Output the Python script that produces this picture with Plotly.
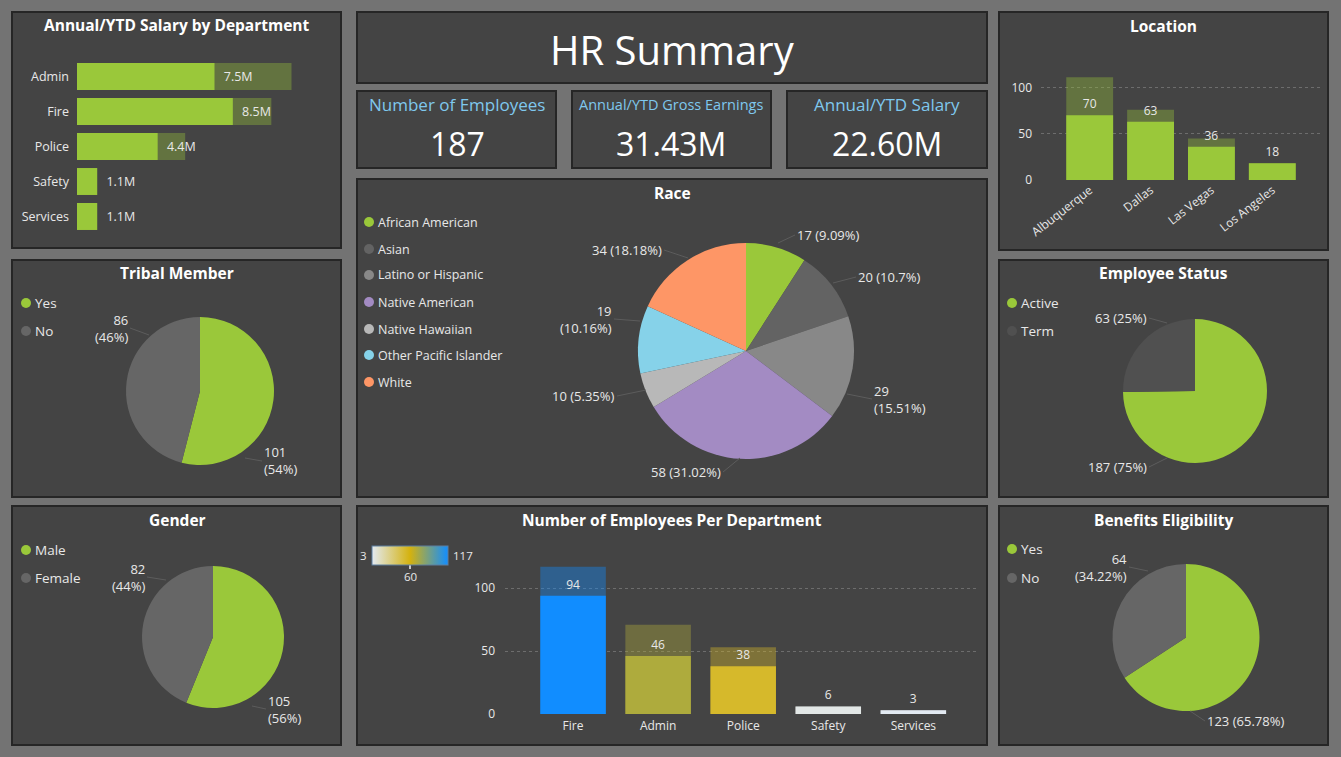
import plotly.graph_objects as go

W, H = 1341, 757

# ---------------- data ----------------
salary_depts = ["Admin", "Fire", "Police", "Safety", "Services"]
salary_selected_m = [7.5, 8.5, 4.4, 1.1, 1.1]
salary_total_m = [11.7, 10.6, 5.9, 1.1, 1.1]

location_names = ["Albuquerque", "Dallas", "Las Vegas", "Los Angeles"]
location_selected = [70, 63, 36, 18]
location_total = [111, 76, 45, 18]

dept_names = ["Fire", "Admin", "Police", "Safety", "Services"]
dept_selected = [94, 46, 38, 6, 3]
dept_total = [117, 71, 53, 6, 3]

race_labels = ["African American", "Asian", "Latino or Hispanic", "Native American",
               "Native Hawaiian", "Other Pacific Islander", "White"]
race_values = [17, 20, 29, 58, 10, 19, 34]

tribal_labels = ["Yes", "No"]
tribal_values = [101, 86]
gender_labels = ["Male", "Female"]
gender_values = [105, 82]
status_labels = ["Active", "Term"]
status_values = [187, 63]
benefit_labels = ["Yes", "No"]
benefit_values = [123, 64]

kpi_titles = ["Number of Employees", "Annual/YTD Gross Earnings", "Annual/YTD Salary"]
kpi_values = ["187", "31.43M", "22.60M"]

# ---------------- style ----------------
FONT = "Segoe UI, Open Sans, sans-serif"
BG = "#737373"
PANEL = "#444444"
BORDER = "#262626"
GREEN = "#9AC83A"
GREY = "#666666"
TXT = "#e8e8e8"
LEADER = "#5c5c5c"
race_colors = ["#9AC83A", "#636363", "#888888", "#A38BC3", "#B8B8B8", "#86D2E9", "#FE9666"]


def px(x):
    return x / W


def py(y):
    return 1 - y / H


def pie_text(values, decimals, breaks):
    total = sum(values)
    out = []
    for v, b in zip(values, breaks):
        s = f"{100 * v / total:.{decimals}f}"
        if "." in s:
            s = s.rstrip("0").rstrip(".")
        out.append(f"{v}{'<br>' if b else ' '}({s}%)")
    return out


fig = go.Figure()
shapes = []
annotations = []

panels = [
    (12, 12, 341, 248), (12, 260, 341, 497), (12, 506, 341, 745),
    (357, 12, 987, 83), (357, 91, 556, 168), (572, 91, 771, 168), (787, 91, 987, 168),
    (357, 179, 987, 497), (357, 506, 987, 745),
    (999, 12, 1328, 250), (999, 260, 1328, 497), (999, 506, 1328, 745),
]
for x0, y0, x1, y1 in panels:
    shapes.append(dict(type="rect", xref="paper", yref="paper", layer="below",
                       x0=px(x0), x1=px(x1), y0=py(y1), y1=py(y0),
                       fillcolor=PANEL, line=dict(color=BORDER, width=2)))


def text_at(text, x, y, size, color, xanchor="center", bold=False):
    if bold:
        text = f"<b>{text}</b>"
    annotations.append(dict(text=text, x=px(x), y=py(y), xref="paper", yref="paper",
                            showarrow=False, xanchor=xanchor, yanchor="middle",
                            font=dict(family=FONT, size=size, color=color)))


def title(text, x, y, size=15.5):
    text_at(text, x, y, size, "white", bold=True)


title("Annual/YTD Salary by Department", 177, 25)
title("Tribal Member", 177, 273)
title("Gender", 177, 520)
title("Race", 672, 193)
title("Number of Employees Per Department", 672, 520)
title("Location", 1163, 26)
title("Employee Status", 1163, 273)
title("Benefits Eligibility", 1163, 520)

text_at("HR Summary", 672, 49, 40, "white")
kpi_centers = [457, 671, 887]
kpi_title_sizes = [17, 14.5, 17]
for t, v, cx, s in zip(kpi_titles, kpi_values, kpi_centers, kpi_title_sizes):
    text_at(t, cx, 105, s, "#7FC8EE")
    text_at(v, cx, 143, 32, "white")


def legend(labels, colors, x, ys, size=13.5):
    for lab, col, y in zip(labels, colors, ys):
        shapes.append(dict(type="circle", xref="paper", yref="paper",
                           x0=px(x - 5), x1=px(x + 5), y0=py(y + 5), y1=py(y - 5),
                           fillcolor=col, line=dict(width=0)))
        text_at(lab, x + 7, y, size, TXT, xanchor="left")


legend(tribal_labels, [GREEN, GREY], 26, [303, 331])
legend(gender_labels, [GREEN, GREY], 26, [550, 578])
legend(status_labels, [GREEN, "#505050"], 1012, [303, 331])
legend(benefit_labels, [GREEN, GREY], 1012, [549, 578])
legend(race_labels, race_colors, 369, [222, 249, 275, 302, 329, 355, 382], size=12.5)

# ---------------- salary by department (horizontal bars) ----------------
fig.add_trace(go.Bar(y=salary_depts, x=salary_total_m, orientation="h", xaxis="x", yaxis="y",
                     marker=dict(color=GREEN, opacity=0.36, line=dict(width=0)),
                     hoverinfo="skip", showlegend=False))
fig.add_trace(go.Bar(y=salary_depts, x=salary_selected_m, orientation="h", xaxis="x", yaxis="y",
                     marker=dict(color=GREEN, line=dict(width=0)),
                     text=[f"\u2002{v}M" for v in salary_selected_m], textposition="outside",
                     constraintext="none", cliponaxis=False,
                     textfont=dict(family=FONT, size=12.5, color=TXT), showlegend=False))

# ---------------- location ----------------
fig.add_trace(go.Bar(x=location_names, y=location_total, xaxis="x2", yaxis="y2",
                     marker=dict(color=GREEN, opacity=0.36, line=dict(width=0)),
                     hoverinfo="skip", showlegend=False))
fig.add_trace(go.Bar(x=location_names, y=location_selected, xaxis="x2", yaxis="y2",
                     marker=dict(color=GREEN, line=dict(width=0)),
                     text=location_selected, textposition="outside", constraintext="none",
                     cliponaxis=False, textfont=dict(family=FONT, size=12, color=TXT),
                     showlegend=False))

# ---------------- employees per department ----------------
cscale = [[0, "#E3EAF2"], [0.5, "#D4B20F"], [1, "#118DFF"]]
fig.add_trace(go.Bar(x=dept_names, y=dept_total, xaxis="x3", yaxis="y3",
                     marker=dict(color=dept_total, colorscale=cscale, cmin=min(dept_total),
                                 cmax=max(dept_total), opacity=0.4, line=dict(width=0),
                                 showscale=False),
                     hoverinfo="skip", showlegend=False))
fig.add_trace(go.Bar(x=dept_names, y=dept_selected, xaxis="x3", yaxis="y3",
                     marker=dict(color=dept_total, colorscale=cscale, cmin=min(dept_total),
                                 cmax=max(dept_total), line=dict(width=0), showscale=True,
                                 colorbar=dict(orientation="h", x=px(372), xanchor="left",
                                               y=py(546), yanchor="top", len=76,
                                               lenmode="pixels", thickness=19, xpad=0, ypad=0,
                                               showticklabels=False, ticks="",
                                               outlinewidth=1, outlinecolor="#5d7fa0")),
                     text=dept_selected, textposition="outside", constraintext="none",
                     cliponaxis=False, textfont=dict(family=FONT, size=12, color=TXT),
                     showlegend=False))
mid_val = (min(dept_total) + max(dept_total)) / 2
text_at(str(min(dept_total)), 369, 555, 11.5, TXT, xanchor="right")
text_at(str(max(dept_total)), 451, 555, 11.5, TXT, xanchor="left")
text_at(str(int(mid_val)), 410, 576, 11.5, TXT)
shapes.append(dict(type="line", xref="paper", yref="paper", x0=px(410), x1=px(410),
                   y0=py(546), y1=py(569), line=dict(color="#f4f4f4", width=1.5)))


# ---------------- pies ----------------
# label placement (layout only): leader tip (x, y) on the pie edge, text anchor (x, y), side
def add_pie(labels, values, colors, box, decimals, breaks, placement):
    x0, y0, x1, y1 = box
    texts = pie_text(values, decimals, breaks)
    fig.add_trace(go.Pie(labels=labels, values=values, sort=False, direction="clockwise",
                         rotation=0, hole=0, automargin=False,
                         domain=dict(x=[px(x0), px(x1)], y=[py(y1), py(y0)]),
                         marker=dict(colors=colors, line=dict(width=0)),
                         text=texts, textinfo="none",
                         hoverinfo="label+text", showlegend=False))
    for t, (tx, ty, lx, ly, side) in zip(texts, placement):
        annotations.append(dict(
            text=t, x=px(tx), y=py(ty), xref="paper", yref="paper",
            axref="pixel", ayref="pixel", ax=lx - tx, ay=ly - ty,
            showarrow=True, arrowhead=0, arrowwidth=1, arrowcolor=LEADER, standoff=0,
            xanchor=side, yanchor="middle", align=side, borderpad=1,
            font=dict(family=FONT, size=13, color=TXT)))


add_pie(tribal_labels, tribal_values, [GREEN, GREY], (126, 317, 274, 465), 0, [True, True],
        [(245, 458, 262, 461, "left"), (149, 335, 130, 328, "right")])
add_pie(gender_labels, gender_values, [GREEN, GREY], (142, 566, 284, 708), 0, [True, True],
        [(252, 706, 266, 709, "left"), (166, 580, 147, 577, "right")])
add_pie(status_labels, status_values, [GREEN, "#505050"], (1123, 319, 1267, 463), 0,
        [False, False],
        [(1167, 458, 1149, 467, "right"), (1167, 323, 1149, 318, "right")])
add_pie(benefit_labels, benefit_values, [GREEN, GREY], (1112, 564, 1260, 711), 2,
        [False, True],
        [(1190, 711, 1205, 721, "left"), (1148, 571, 1129, 567, "right")])
add_pie(race_labels, race_values, race_colors, (638, 243, 854, 459), 2,
        [False, False, True, False, False, True, False],
        [(778, 243, 795, 235, "left"), (833, 283, 856, 277, "left"),
         (847, 394, 872, 399, "left"), (740, 458, 723, 472, "right"),
         (646, 390, 617, 396, "right"), (640, 321, 614, 319, "right"),
         (688, 258, 664, 250, "right")])

# ---------------- axes ----------------
tickfont = dict(family=FONT, size=12, color=TXT)
grid = dict(showgrid=True, gridcolor="#6d6d6d", griddash="dot", gridwidth=1, zeroline=False)

fig.update_layout(
    width=W, height=H, autosize=False,
    margin=dict(l=0, r=0, t=0, b=0, pad=0, autoexpand=False),
    paper_bgcolor=BG, plot_bgcolor="rgba(0,0,0,0)",
    barmode="overlay", bargap=0.23,
    font=dict(family=FONT, color=TXT),
    shapes=shapes, annotations=annotations,
    xaxis=dict(domain=[px(77), px(330)], range=[0, 13.8], visible=False, fixedrange=True),
    yaxis=dict(domain=[py(234), py(59)], autorange="reversed", type="category",
               showgrid=False, zeroline=False, showline=False, ticks="", ticklabelstandoff=7,
               tickfont=dict(family=FONT, size=12.5, color=TXT), anchor="x"),
    xaxis2=dict(domain=[px(1041), px(1321)], range=[-0.8, 3.8], type="category",
                showgrid=False, zeroline=False, ticks="", tickangle=-38, tickfont=tickfont,
                anchor="y2"),
    yaxis2=dict(domain=[py(180), py(69)], range=[0, 120], tickvals=[0, 50, 100],
                tickfont=tickfont, ticks="", ticklabelstandoff=8, anchor="x2", **grid),
    xaxis3=dict(domain=[px(505), px(978)], range=[-0.8, 4.76], type="category",
                showgrid=False, zeroline=False, ticks="", ticklabelstandoff=3,
                tickfont=tickfont, anchor="y3"),
    yaxis3=dict(domain=[py(714), py(563)], range=[0, 120], tickvals=[0, 50, 100],
                tickfont=tickfont, ticks="", ticklabelstandoff=9, anchor="x3", **grid),
)

fig.write_html("out.html")
